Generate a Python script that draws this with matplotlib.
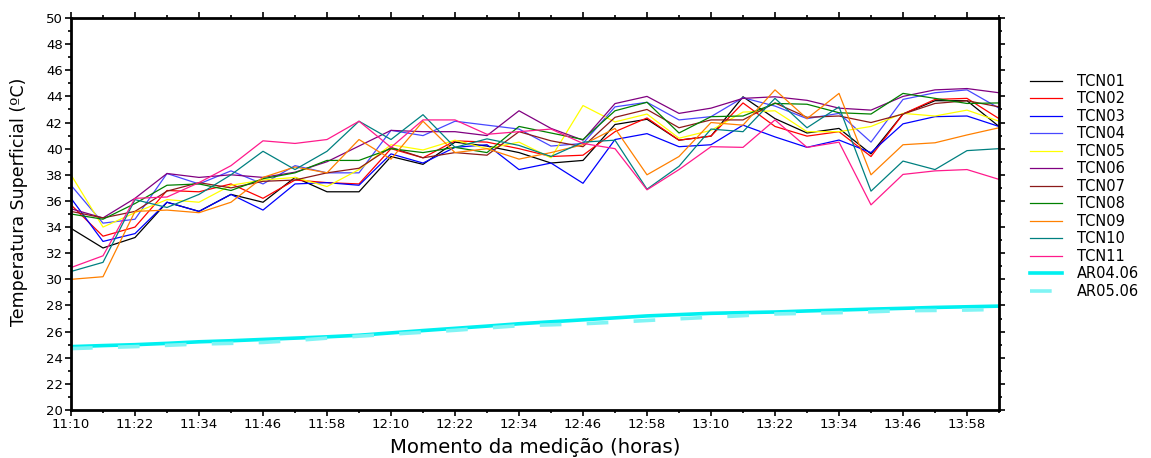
import matplotlib
matplotlib.use("Agg")
import matplotlib.pyplot as plt
from matplotlib.ticker import MultipleLocator

plt.rcParams['font.family'] = ['DejaVu Sans']

times = ["11:10", "11:16", "11:22", "11:28", "11:34", "11:40", "11:46", "11:52", "11:58", "12:04",
         "12:10", "12:16", "12:22", "12:28", "12:34", "12:40", "12:46", "12:52", "12:58", "13:04",
         "13:10", "13:16", "13:22", "13:28", "13:34", "13:40", "13:46", "13:52", "13:58", "14:04"]
tick_labels = ["11:10", "11:22", "11:34", "11:46", "11:58", "12:10", "12:22", "12:34",
               "12:46", "12:58", "13:10", "13:22", "13:34", "13:46", "13:58"]

TCN01 = [33.9, 32.4, 33.2, 35.9, 35.2, 36.5, 35.9, 37.8, 36.7, 36.7, 39.4, 38.8, 40.5, 40.2, 39.7,
         38.9, 39.1, 41.85, 42.25, 40.65, 40.96, 43.97, 42.3, 41.2, 41.55, 39.6, 42.65, 43.67, 43.67, 41.7]
TCN02 = [35.7, 33.3, 34.0, 36.8, 36.7, 37.3, 36.2, 37.6, 37.4, 37.3, 40.0, 39.3, 40.6, 40.5, 40.0,
         39.4, 39.5, 41.3, 42.35, 40.65, 40.96, 43.5, 41.7, 40.96, 41.3, 39.4, 42.65, 43.77, 43.85, 42.3]
TCN03 = [36.2, 32.9, 33.5, 35.9, 35.2, 36.5, 35.3, 37.3, 37.4, 37.2, 39.6, 38.9, 40.1, 40.3, 38.4,
         38.9, 37.35, 40.7, 41.15, 40.15, 40.3, 41.8, 40.9, 40.1, 40.66, 39.7, 41.9, 42.45, 42.5, 41.7]
TCN04 = [37.2, 34.3, 34.6, 38.1, 37.3, 38.3, 37.3, 38.7, 38.15, 38.15, 41.4, 41.0, 42.1, 41.8, 41.5,
         40.2, 40.4, 43.2, 43.55, 42.2, 42.45, 43.9, 43.26, 42.3, 42.7, 40.5, 43.77, 44.28, 44.5, 43.1]
TCN05 = [38.0, 34.0, 35.1, 36.1, 35.9, 37.2, 37.6, 37.8, 37.1, 38.4, 40.3, 39.9, 40.65, 40.0, 40.5,
         39.3, 43.3, 42.05, 42.65, 40.8, 41.4, 42.8, 42.9, 41.3, 41.3, 41.7, 42.7, 42.5, 42.95, 42.1]
TCN06 = [35.4, 34.7, 36.2, 38.1, 37.8, 38.0, 37.8, 38.2, 39.0, 40.2, 41.4, 41.3, 41.3, 41.0, 42.9,
         41.55, 40.65, 43.45, 44.0, 42.7, 43.1, 43.85, 43.97, 43.7, 43.1, 42.95, 44.0, 44.5, 44.6, 44.28]
TCN07 = [35.2, 34.7, 35.2, 36.75, 37.4, 37.0, 37.5, 37.6, 38.15, 38.5, 40.1, 39.3, 39.7, 39.5, 41.3,
         40.6, 40.15, 42.4, 43.0, 41.6, 42.2, 42.2, 43.5, 42.4, 42.5, 42.0, 42.65, 43.46, 43.67, 43.2]
TCN08 = [35.0, 34.6, 35.8, 37.2, 37.3, 36.8, 37.7, 38.15, 39.1, 39.1, 40.0, 39.7, 40.1, 39.7, 41.7,
         41.2, 40.7, 42.9, 43.55, 41.2, 42.45, 42.5, 43.46, 43.4, 42.75, 42.65, 44.23, 43.85, 43.46, 43.5]
TCN09 = [30.0, 30.2, 35.2, 35.3, 35.1, 35.9, 37.8, 38.6, 38.15, 40.7, 39.2, 42.1, 39.7, 40.0, 39.2,
         39.7, 40.3, 41.55, 38.0, 39.4, 42.0, 41.8, 44.5, 42.3, 44.23, 38.0, 40.3, 40.45, 41.05, 41.6]
TCN10 = [30.6, 31.3, 36.1, 35.5, 36.5, 38.0, 39.8, 38.4, 39.8, 42.1, 40.7, 42.6, 40.1, 40.75, 40.25,
         39.4, 40.5, 40.65, 36.9, 38.65, 41.5, 41.3, 43.85, 41.6, 43.2, 36.75, 39.05, 38.4, 39.85, 40.0]
TCN11 = [30.9, 31.8, 36.2, 36.3, 37.4, 38.7, 40.6, 40.4, 40.7, 42.1, 40.1, 42.2, 42.2, 41.1, 41.3,
         41.5, 40.4, 40.0, 36.85, 38.4, 40.15, 40.1, 42.2, 40.1, 40.5, 35.7, 38.03, 38.3, 38.4, 37.65]
AR0406 = [24.85, 24.93, 25.0, 25.1, 25.22, 25.3, 25.4, 25.5, 25.6, 25.72, 25.9, 26.08, 26.25, 26.42, 26.6,
          26.75, 26.9, 27.05, 27.2, 27.3, 27.4, 27.45, 27.5, 27.58, 27.65, 27.72, 27.78, 27.85, 27.9, 27.95]
AR0506 = [24.7, 24.78, 24.85, 24.95, 25.05, 25.1, 25.17, 25.32, 25.5, 25.65, 25.8, 25.95, 26.1, 26.28, 26.45,
          26.52, 26.6, 26.72, 26.85, 26.98, 27.1, 27.22, 27.35, 27.4, 27.45, 27.52, 27.6, 27.62, 27.65, 27.7]

series_names = ["TCN01", "TCN02", "TCN03", "TCN04", "TCN05", "TCN06", "TCN07", "TCN08", "TCN09", "TCN10", "TCN11"]
series_vals = [TCN01, TCN02, TCN03, TCN04, TCN05, TCN06, TCN07, TCN08, TCN09, TCN10, TCN11]
colors = ["#000000", "#ff0000", "#0000ff", "#4848ff", "#ffff00", "#800080", "#8b1a1a",
          "#008000", "#ff8000", "#008080", "#ff1a8c"]


def to_min(s):
    h, m = s.split(":")
    return int(h) * 60 + int(m)


t0 = to_min(times[0])
x = [to_min(t) - t0 for t in times]
xt = [to_min(t) - t0 for t in tick_labels]

fig = plt.figure(figsize=(11.51, 4.58), dpi=100)
ax = fig.add_axes([71 / 1151, 48 / 458, 928 / 1151, 392 / 458])

for name, vals, c in zip(series_names, series_vals, colors):
    ax.plot(x, vals, color=c, lw=0.9, label=name)
ax.plot(x, AR0406, color="#00f0f0", lw=2.6, label="AR04.06")
ax.plot(x, AR0506, color="#80f4f4", lw=2.6, dashes=(6, 7), label="AR05.06")

ax.set_xlim(x[0], x[-1])
ax.set_ylim(20, 50)
ax.set_xticks(xt)
ax.set_xticklabels(tick_labels)
ax.xaxis.set_minor_locator(MultipleLocator(6))
ax.yaxis.set_major_locator(MultipleLocator(2))
ax.yaxis.set_minor_locator(MultipleLocator(1))
ax.tick_params(which='both', direction='out', top=True, right=True, labelsize=9.5, width=1.2, pad=2)
ax.tick_params(which='major', length=4)
ax.tick_params(which='minor', length=2.5)
for s in ax.spines.values():
    s.set_linewidth(2.0)

ax.set_ylabel("Temperatura Superficial (ºC)", fontsize=12.5)
ax.yaxis.set_label_coords(-0.046, 0.53)
ax.set_xlabel("Momento da medição (horas)", fontsize=14.2, labelpad=5)

leg = ax.legend(loc='upper left', bbox_to_anchor=(1.027, 0.872), bbox_transform=ax.transAxes,
                frameon=False, fontsize=10.5, handlelength=2.2, handletextpad=1.0,
                labelspacing=0.17, borderaxespad=0)

fig.savefig("out.png", dpi=100)
